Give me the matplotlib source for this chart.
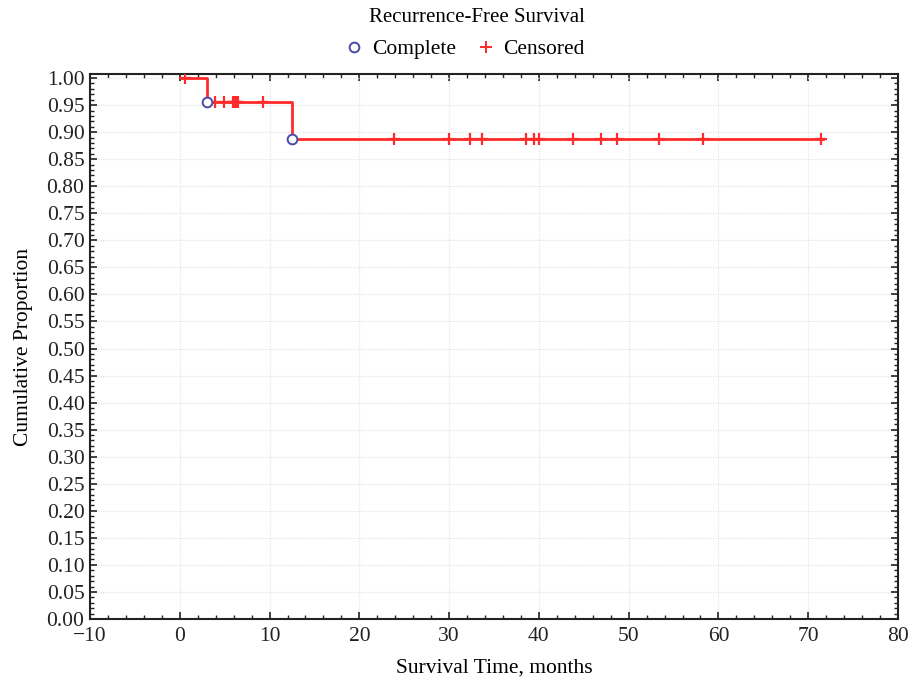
import numpy as np
import matplotlib
matplotlib.use("Agg")
import matplotlib.pyplot as plt
from matplotlib.ticker import MultipleLocator, FormatStrFormatter
from matplotlib.lines import Line2D

plt.rcParams['font.family'] = ['Liberation Serif', 'DejaVu Serif']

# Kaplan-Meier step curve
step_times = [0.2, 3.0, 12.5, 71.6]
step_values = [1.0, 0.9565, 0.888, 0.888]

# event (complete) points
complete_times = [3.0, 12.5]
complete_values = [0.9565, 0.888]

# censored points
censored_times = [0.6, 3.9, 4.9, 5.9, 6.0, 6.2, 6.3, 6.5, 9.3,
                  23.9, 30.0, 32.3, 33.7, 38.6, 39.5, 40.0, 43.8, 46.9,
                  48.7, 53.4, 58.3, 71.4]
censored_values = [1.0] + [0.9565] * 8 + [0.888] * 13

fig = plt.figure(figsize=(9.09, 6.8), dpi=100)
ax = fig.add_axes([90/909, 1-619/680, (898-90)/909, (619-74)/680])

red = '#ff2a2a'
blue = '#4a4aa8'

ax.step(step_times, step_values, where='post', color=red, lw=2.0, zorder=3)
ax.plot(censored_times, censored_values, linestyle='none', marker='+',
        color=red, markersize=8.5, mew=1.6, zorder=4)
ax.plot(complete_times, complete_values, linestyle='none', marker='o',
        mfc='white', mec=blue, markersize=7, mew=1.4, zorder=5)

ax.set_xlim(-10, 80)
ax.set_ylim(0, 1.0075)
ax.xaxis.set_major_locator(MultipleLocator(10))
ax.xaxis.set_minor_locator(MultipleLocator(2))
ax.yaxis.set_major_locator(MultipleLocator(0.05))
ax.yaxis.set_minor_locator(MultipleLocator(0.01))
ax.yaxis.set_major_formatter(FormatStrFormatter('%.2f'))

ax.tick_params(which='both', direction='in', top=True, right=True,
               labelsize=15.5, colors='#222222')
ax.tick_params(which='major', length=5, width=1.2)
ax.tick_params(which='minor', length=3, width=1.0)
ax.tick_params(axis='x', which='major', pad=6)
ax.tick_params(axis='y', which='major', pad=4)

for s in ax.spines.values():
    s.set_color('#222222')
    s.set_linewidth(1.5)

ax.grid(True, which='major', color='#e1e7eb', linestyle=(0, (1, 1)), lw=0.9, zorder=0)

ax.set_xlabel('Survival Time, months', fontsize=15.5, labelpad=9)
ax.set_ylabel('Cumulative Proportion', fontsize=15.5, labelpad=10)

fig.text(477/909, 1-18/680, 'Recurrence-Free Survival', ha='center', va='center', fontsize=15)

handles = [Line2D([], [], linestyle='none', marker='o', mfc='white', mec=blue, markersize=7, mew=1.4),
           Line2D([], [], linestyle='none', marker='+', color=red, markersize=9, mew=1.4)]
fig.legend(handles, ['Complete', 'Censored'], loc='center', bbox_to_anchor=(463/909, 1-49/680),
           ncol=2, frameon=False, fontsize=15.5, handletextpad=0.2, columnspacing=0.8,
           handlelength=1.2)

fig.savefig('out.png', dpi=100)
